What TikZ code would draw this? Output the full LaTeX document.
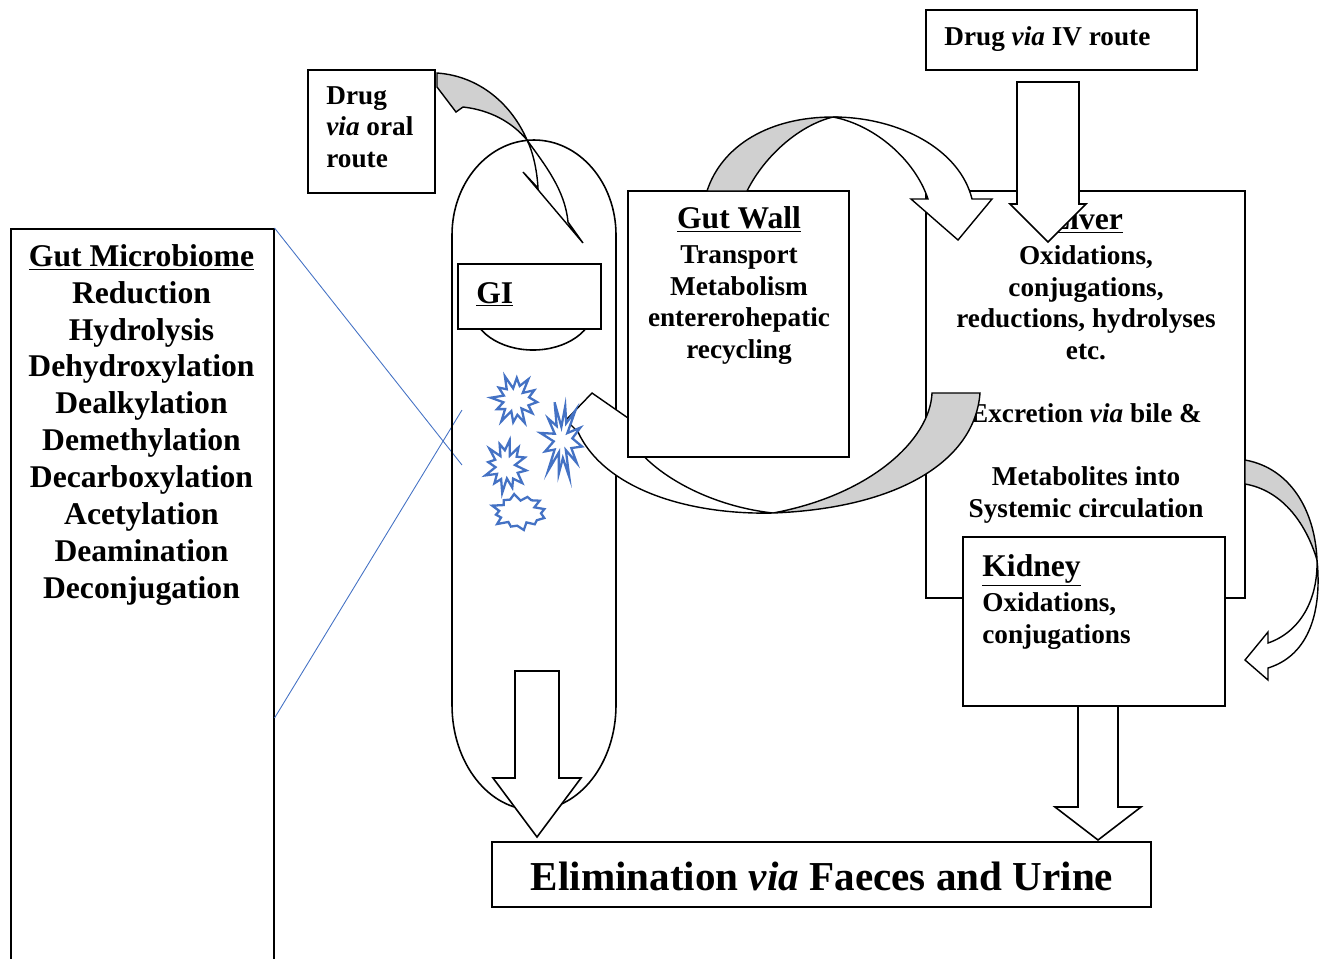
\documentclass[tikz,border=0pt]{standalone}
\usepackage{fontspec}
\setmainfont{Liberation Serif}
\usetikzlibrary{calc}

\definecolor{starblue}{RGB}{68,114,196}
\definecolor{backgray}{RGB}{208,208,208}

\newcommand{\heading}[1]{{\fontsize{18pt}{21pt}\selectfont\underline{#1}}}

% block arrow pointing down: tail, tip, shaft half width, head half width, head length
\newcommand{\fatarrow}[5]{%
  \draw[fat] ($(#1)+(-#3,0)$) -- ($(#1)+(#3,0)$) -- ($(#2)+(#3,-#5)$)
    -- ($(#2)+(#4,-#5)$) -- (#2) -- ($(#2)+(-#4,-#5)$) -- ($(#2)+(-#3,-#5)$) -- cycle;}

% starburst: x, y, x radius, y radius, inner ratio, turn
\newcommand{\burst}[6]{%
  \draw[burst] plot[samples at={0,...,23}]
    ({#1+#3*(1-(1-#5)*mod(\x,2)+0.1*sin(97*\x+#6))*cos(15*\x+#6)},
     {#2+#4*(1-(1-#5)*mod(\x,2)+0.1*sin(97*\x+#6))*sin(15*\x+#6)}) -- cycle;}

\begin{document}
\begin{tikzpicture}[
  x=0.02cm, y=-0.02cm,
  every node/.style={inner sep=0pt, font=\bfseries\fontsize{15.5pt}{18pt}\selectfont},
  panel/.style={draw, fill=white, line width=0.9pt},
  fat/.style={draw, fill=white, line width=0.9pt, line join=miter},
  front/.style={draw, fill=white, line width=0.8pt},
  back/.style={draw, fill=backgray, line width=0.8pt},
  burst/.style={draw=starblue, fill=white, line width=1.3pt, line join=miter},
  pointer/.style={draw=starblue, line width=0.5pt}
]
\useasboundingbox (0,0) rectangle (1324,958);

% microbiome panel
\node[panel, minimum width=5.26cm, minimum height=15cm, anchor=north west] (microbox) at (10,228) {};
\node[anchor=north, align=center, font=\bfseries\fontsize{18pt}{21pt}\selectfont] (microtext) at (141.5,244)
  {\underline{Gut Microbiome}\\Reduction\\Hydrolysis\\Dehydroxylation\\Dealkylation\\Demethylation\\Decarboxylation\\Acetylation\\Deamination\\Deconjugation};
\coordinate (lensA) at (462,465);
\coordinate (lensB) at (462,410);
\draw[pointer] (microbox.north east) -- (lensA);
\draw[pointer] ($(microbox.north east)+(0,490)$) -- (lensB);

% liver
\node[panel, minimum width=6.38cm, minimum height=8.14cm] (liver) at (1085.5,394.5) {};
\node[anchor=north, align=center] (livertext) at (1086,207)
  {\heading{Liver}\\[2pt]Oxidations,\\conjugations,\\reductions, hydrolyses\\etc.\\[18pt]Excretion \textit{via} bile \&\\[18pt]Metabolites into\\Systemic circulation};

% GI tract
\draw[line width=0.9pt] (452,705) -- (452,235) .. controls (452,182.5) and (488.7,140) .. (534,140)
  .. controls (579.3,140) and (616,182.5) .. (616,235) -- (616,705)
  .. controls (616,763) and (579.3,810) .. (534,810) .. controls (488.7,810) and (452,763) .. (452,705) -- cycle;
\draw[line width=0.9pt] (533,307) ellipse [x radius=61, y radius=43];
\node[panel, minimum width=2.86cm, minimum height=1.3cm] (gi) at (529.5,296.5) {};
\node[anchor=base west] (gitext) at (476,303) {\heading{GI}};

% bile back to gut
\draw[front] (592,393) -- (628,418) -- (628,433) .. controls (640,465) and (700,505) .. (773,513)
  .. controls (690,515) and (605,490) .. (578,432) -- (566,420) -- cycle;
\draw[back] (773,513) .. controls (900,508) and (975,460) .. (980,393) -- (932,393)
  .. controls (930,440) and (870,495) .. (773,513) -- cycle;

% microbes
\burst{515}{400}{22}{24}{0.55}{5}
\burst{506}{466}{20}{25}{0.55}{40}
\burst{519}{512}{26}{17}{0.75}{20}
\burst{562}{440}{20}{37}{0.42}{10}

% gut wall
\node[panel, minimum width=4.42cm, minimum height=5.32cm] (gutwall) at (738.5,324) {};
\node[anchor=north, align=center] (gutwalltext) at (739,206)
  {\heading{Gut Wall}\\[2pt]Transport\\Metabolism\\entererohepatic\\recycling};

% gut wall to liver
\draw[back] (707,191) .. controls (722,145) and (770,117) .. (833,117)
  .. controls (800,125) and (765,155) .. (747,191) -- cycle;
\draw[front] (833,117) .. controls (900,117) and (960,150) .. (972,199) -- (992,199) -- (958,240)
  -- (911,199) -- (928,199) .. controls (915,160) and (875,125) .. (833,117) -- cycle;

% IV route
\node[panel, minimum width=5.42cm, minimum height=1.2cm] (iv) at (1061.5,40) {};
\node[anchor=base west] (ivtext) at (944,45) {Drug \textit{via} IV route};
\coordinate (ivtail) at (1048,82);
\coordinate (ivtip) at (1048,242);
\fatarrow{ivtail}{ivtip}{31}{38}{38}

% liver to kidney
\draw[back] (1245,460) .. controls (1290,468) and (1315,510) .. (1317,560)
  .. controls (1305,520) and (1280,490) .. (1245,484) -- cycle;
\draw[front] (1317,560) .. controls (1318,600) and (1300,632) .. (1268,643) -- (1268,632) -- (1245,660)
  -- (1268,680) -- (1268,668) .. controls (1310,655) and (1322,610) .. (1317,560) -- cycle;

% kidney
\node[panel, minimum width=5.24cm, minimum height=3.38cm] (kidney) at (1094,621.5) {};
\node[anchor=north west, align=left] (kidneytext) at (982,554)
  {\heading{Kidney}\\[2pt]Oxidations,\\conjugations};

% elimination
\node[panel, minimum width=13.18cm, minimum height=1.3cm] (elim) at (821.5,874.5) {};
\node[anchor=base, font=\bfseries\fontsize{23.4pt}{28pt}\selectfont] (elimtext) at (822,890)
  {Elimination \textit{via} Faeces and Urine};
\coordinate (gitail) at (537,671);
\coordinate (gitip) at (537,837);
\fatarrow{gitail}{gitip}{22}{44}{59}
\coordinate (kidneytail) at (1098,706);
\coordinate (kidneytip) at (1098,840);
\fatarrow{kidneytail}{kidneytip}{20}{43}{33}

% oral route
\node[panel, minimum width=2.54cm, minimum height=2.46cm] (oral) at (371.5,131.5) {};
\node[anchor=north west, align=left] (oraltext) at (326,86) {Drug\\\textit{via} oral\\route};
\draw[back] (437,73) .. controls (480,76) and (512,105) .. (527,140)
  .. controls (512,122) and (490,110) .. (463,107) -- (456,112) -- (437,87) -- cycle;
\draw[front] (527,140) .. controls (545,165) and (565,190) .. (568,222) -- (583,243) -- (523,172)
  -- (538,188) .. controls (537,170) and (533,152) .. (527,140) -- cycle;
\end{tikzpicture}
\end{document}
